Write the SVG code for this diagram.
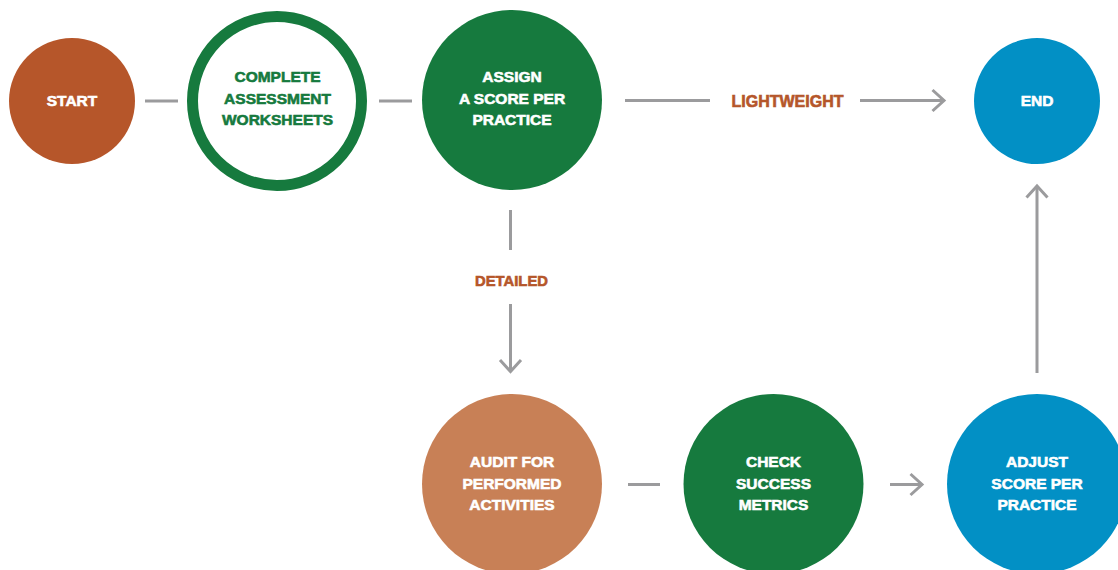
<svg xmlns="http://www.w3.org/2000/svg" width="1118" height="570" viewBox="0 0 1118 570">
<defs>
<marker id="chev" markerUnits="userSpaceOnUse" markerWidth="30" markerHeight="30" viewBox="-15 -15 30 30" refX="0" refY="0" orient="auto">
<path d="M-11.5,-10.5 L0,0 L-11.5,10.5" fill="none" stroke="#9b9b9d" stroke-width="3"/>
</marker>
</defs>
<style>
.lbl{font-family:"Liberation Sans",Arial,sans-serif;font-weight:bold;font-size:15.5px;text-anchor:middle;stroke-width:0.6px}
.w{fill:#ffffff;stroke:#ffffff}
.g{fill:#167a3e;stroke:#167a3e}
.o{fill:#b5562a;stroke:#b5562a}
.conn{stroke:#9b9b9d;stroke-width:3;fill:none}
</style>
<rect width="1118" height="570" fill="#ffffff"/>
<g id="connectors">
<line class="conn" x1="145" y1="101" x2="178" y2="101"/>
<line class="conn" x1="379" y1="101" x2="412" y2="101"/>
<line class="conn" x1="625" y1="100.5" x2="710" y2="100.5"/>
<line class="conn" x1="860" y1="100.5" x2="944" y2="100.5" marker-end="url(#chev)"/>
<line class="conn" x1="510.5" y1="210" x2="510.5" y2="250"/>
<line class="conn" x1="510.5" y1="304" x2="510.5" y2="371.5" marker-end="url(#chev)"/>
<line class="conn" x1="628" y1="484.5" x2="660" y2="484.5"/>
<line class="conn" x1="890" y1="484.5" x2="922" y2="484.5" marker-end="url(#chev)"/>
<line class="conn" x1="1037" y1="373" x2="1037" y2="186" marker-end="url(#chev)"/>
<text class="lbl o" x="787.5" y="107" style="font-size:16px">LIGHTWEIGHT</text>
<text class="lbl o" x="511.5" y="285.5" style="font-size:14.8px">DETAILED</text>
</g>
<g id="start">
<circle cx="72" cy="101" r="63" fill="#b6562a"/>
<text class="lbl w" x="72" y="106">START</text>
</g>
<g id="complete">
<circle cx="277" cy="101" r="84.5" fill="#ffffff" stroke="#167a3e" stroke-width="11"/>
<text class="lbl g" x="277.5" y="81.7">COMPLETE</text>
<text class="lbl g" x="277.5" y="104">ASSESSMENT</text>
<text class="lbl g" x="277.5" y="125">WORKSHEETS</text>
</g>
<g id="assign">
<circle cx="512" cy="100" r="90" fill="#167a3e"/>
<text class="lbl w" x="512" y="81.7">ASSIGN</text>
<text class="lbl w" x="512" y="104">A SCORE PER</text>
<text class="lbl w" x="512" y="125">PRACTICE</text>
</g>
<g id="end">
<circle cx="1037" cy="101" r="63" fill="#0290c5"/>
<text class="lbl w" x="1037" y="106">END</text>
</g>
<g id="audit">
<circle cx="512" cy="484" r="90" fill="#c88056"/>
<text class="lbl w" x="512" y="467">AUDIT FOR</text>
<text class="lbl w" x="512" y="488.5">PERFORMED</text>
<text class="lbl w" x="512" y="510">ACTIVITIES</text>
</g>
<g id="check">
<circle cx="773.5" cy="484" r="90" fill="#167a3e"/>
<text class="lbl w" x="773.5" y="467">CHECK</text>
<text class="lbl w" x="773.5" y="488.5">SUCCESS</text>
<text class="lbl w" x="773.5" y="510">METRICS</text>
</g>
<g id="adjust">
<circle cx="1037" cy="484" r="90" fill="#0290c5"/>
<text class="lbl w" x="1037" y="467">ADJUST</text>
<text class="lbl w" x="1037" y="488.5">SCORE PER</text>
<text class="lbl w" x="1037" y="510">PRACTICE</text>
</g>
</svg>
